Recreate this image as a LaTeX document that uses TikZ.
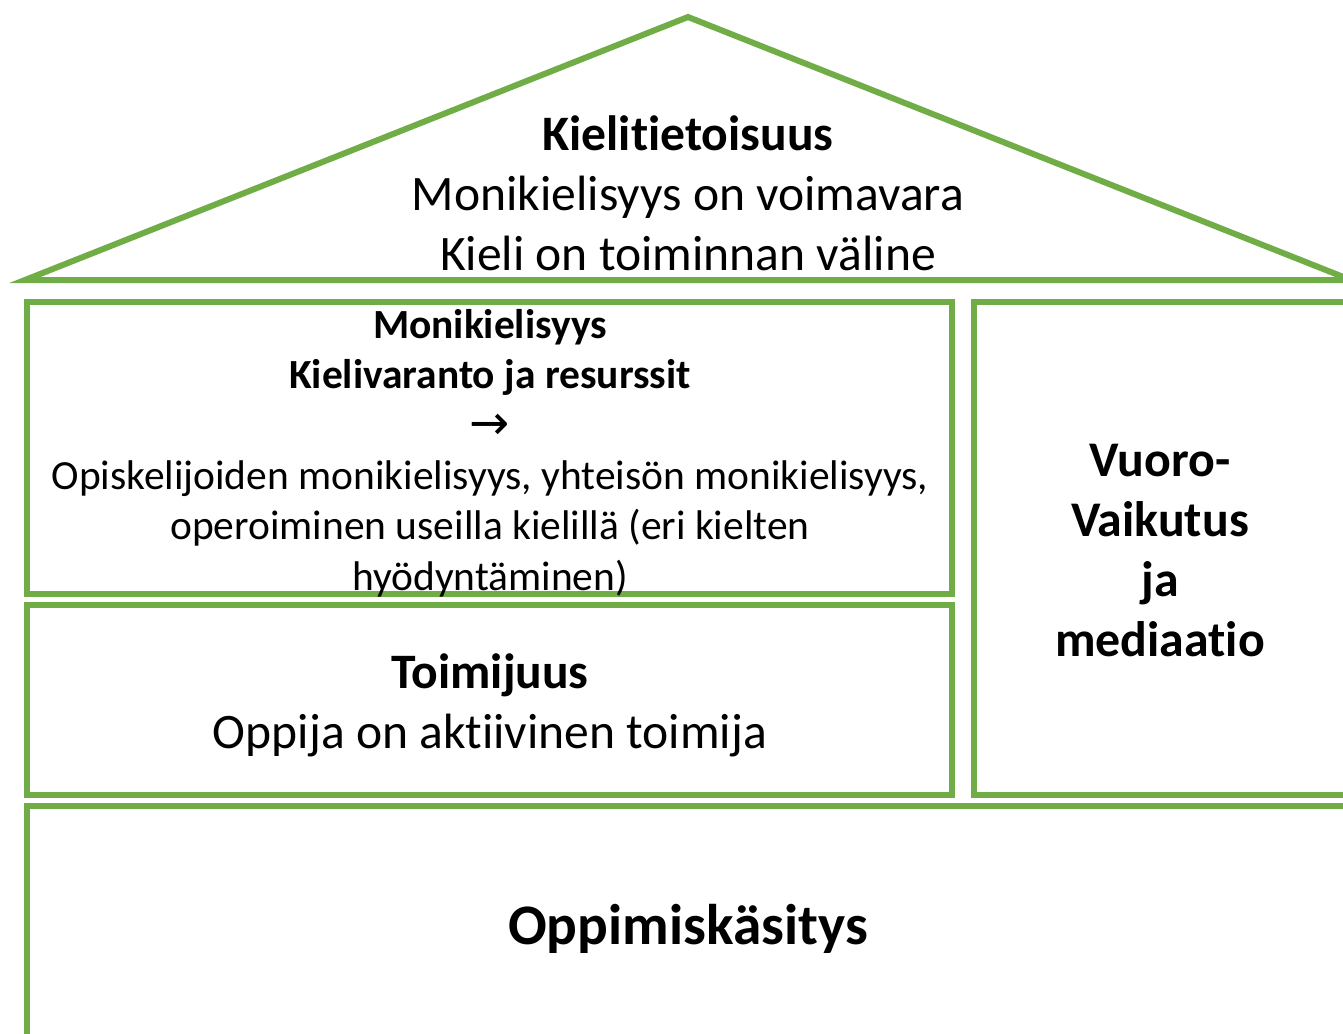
\documentclass[tikz,border=0pt]{standalone}
\usepackage{fontspec}
\setmainfont{Carlito}[Ligatures=NoCommon]
\newfontfamily\arrowfont{DejaVu Sans}
\usetikzlibrary{positioning}

\begin{document}
\begin{tikzpicture}[x=0.75pt,y=-0.75pt,
    frame/.style={draw=houseGreen,line width=4.5pt},
    big text/.style={align=center,font=\fontsize{37.2}{45}\selectfont,inner sep=0pt},
    small text/.style={align=center,font=\fontsize{31.1}{37.8}\selectfont,inner sep=0pt}]
    \definecolor{houseGreen}{HTML}{70AD47}
    \useasboundingbox (0,0) rectangle (1343,1033);
    \clip (0,0) rectangle (1343,1033);

    % roof and walls
    \draw[frame,line join=miter] (25,280) -- (688,17) -- (1351,280) -- cycle;
    \draw[frame] (27,302) rectangle (952,594);
    \draw[frame] (27,605) rectangle (952,795);
    \draw[frame] (974,302) rectangle (1380,795);
    \draw[frame] (27,806) rectangle (1380,1080);

    \node[big text] (roof) at (688,193) {\textbf{Kielitietoisuus}\\Monikielisyys on voimavara\\Kieli on toiminnan väline};
    \node[small text] (multi) at (490,453) {\textbf{Monikielisyys}\\\textbf{Kielivaranto ja resurssit}\\{\arrowfont\fontsize{36}{37.8}\selectfont →}\\Opiskelijoiden monikielisyys, yhteisön monikielisyys,\\operoiminen useilla kielillä (eri kielten\\hyödyntäminen)};
    \node[big text] (agency) at (490,705) {\textbf{Toimijuus}\\Oppija on aktiivinen toimija};
    \node[big text,font=\bfseries\fontsize{37.4}{45}\selectfont] (inter) at (1160,551) {Vuoro-\\Vaikutus\\ja\\mediaatio};
    \node[big text,font=\bfseries\fontsize{43}{50}\selectfont] (learn) at (688,929) {Oppimiskäsitys};
\end{tikzpicture}
\end{document}
